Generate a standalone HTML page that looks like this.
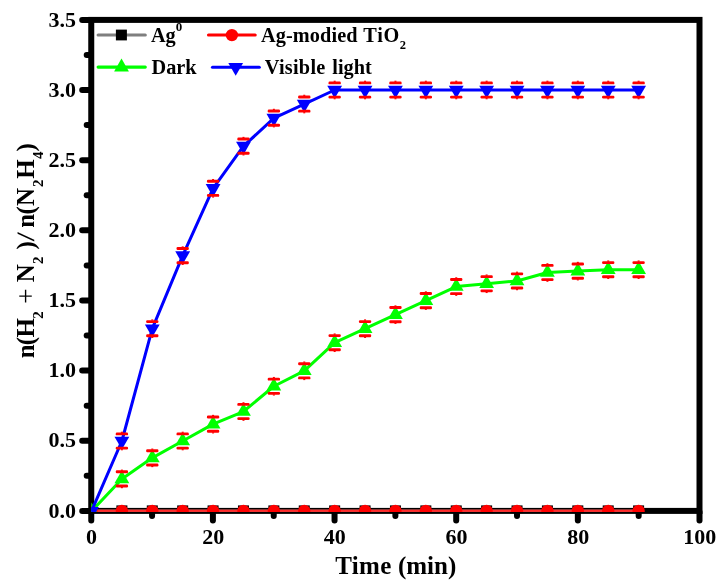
<!DOCTYPE html>
<html lang="en"><head><meta charset="utf-8"><title>Chart</title>
<style>html,body{margin:0;padding:0;background:#fff}svg{display:block}text{font-family:"Liberation Serif",serif;font-weight:bold;fill:#000}</style></head><body>
<svg width="725" height="587" viewBox="0 0 725 587">
<rect width="725" height="587" fill="#fff"/>
<defs><clipPath id="c"><rect x="91.25" y="0" width="640" height="511.90"/></clipPath></defs>
<g stroke="#000" stroke-width="6.0" fill="none" stroke-linecap="round">
<rect x="91.25" y="19.90" width="608.25" height="491.00" stroke-linejoin="miter"/>
<line x1="82.20" y1="510.90" x2="90.25" y2="510.90"/>
<line x1="86.70" y1="475.83" x2="90.25" y2="475.83"/>
<line x1="82.20" y1="440.76" x2="90.25" y2="440.76"/>
<line x1="86.70" y1="405.69" x2="90.25" y2="405.69"/>
<line x1="82.20" y1="370.61" x2="90.25" y2="370.61"/>
<line x1="86.70" y1="335.54" x2="90.25" y2="335.54"/>
<line x1="82.20" y1="300.47" x2="90.25" y2="300.47"/>
<line x1="86.70" y1="265.40" x2="90.25" y2="265.40"/>
<line x1="82.20" y1="230.33" x2="90.25" y2="230.33"/>
<line x1="86.70" y1="195.26" x2="90.25" y2="195.26"/>
<line x1="82.20" y1="160.19" x2="90.25" y2="160.19"/>
<line x1="86.70" y1="125.11" x2="90.25" y2="125.11"/>
<line x1="82.20" y1="90.04" x2="90.25" y2="90.04"/>
<line x1="86.70" y1="54.97" x2="90.25" y2="54.97"/>
<line x1="82.20" y1="19.90" x2="90.25" y2="19.90"/>
<line x1="91.25" y1="511.90" x2="91.25" y2="520.60"/>
<line x1="152.07" y1="511.90" x2="152.07" y2="516.10"/>
<line x1="212.90" y1="511.90" x2="212.90" y2="520.60"/>
<line x1="273.73" y1="511.90" x2="273.73" y2="516.10"/>
<line x1="334.55" y1="511.90" x2="334.55" y2="520.60"/>
<line x1="395.38" y1="511.90" x2="395.38" y2="516.10"/>
<line x1="456.20" y1="511.90" x2="456.20" y2="520.60"/>
<line x1="517.02" y1="511.90" x2="517.02" y2="516.10"/>
<line x1="577.85" y1="511.90" x2="577.85" y2="520.60"/>
<line x1="638.67" y1="511.90" x2="638.67" y2="516.10"/>
<line x1="699.50" y1="511.90" x2="699.50" y2="520.60"/>
</g>
<g font-size="22.0px">
<text x="75.9" y="517.50" text-anchor="end">0.0</text>
<text x="75.9" y="447.36" text-anchor="end">0.5</text>
<text x="75.9" y="377.21" text-anchor="end">1.0</text>
<text x="75.9" y="307.07" text-anchor="end">1.5</text>
<text x="75.9" y="236.93" text-anchor="end">2.0</text>
<text x="75.9" y="166.79" text-anchor="end">2.5</text>
<text x="75.9" y="96.64" text-anchor="end">3.0</text>
<text x="75.9" y="26.50" text-anchor="end">3.5</text>
<text x="91.55" y="544" text-anchor="middle">0</text>
<text x="213.20" y="544" text-anchor="middle">20</text>
<text x="334.85" y="544" text-anchor="middle">40</text>
<text x="456.50" y="544" text-anchor="middle">60</text>
<text x="578.15" y="544" text-anchor="middle">80</text>
<text x="699.80" y="544" text-anchor="middle">100</text>
</g>
<text x="335.3" y="573.6" font-size="25px" letter-spacing="0.3">Time</text>
<text x="397.9" y="573.6" font-size="25px">(min)</text>
<text transform="translate(33.7,358.0) rotate(-90)" font-size="25px"><tspan x="-0.2" y="0">n</tspan><tspan x="12.7" y="0">(</tspan><tspan x="20.6" y="0">H</tspan><tspan x="39.3" y="9.2" font-size="15px">2</tspan><tspan x="54.3" y="1.6" font-size="27px" font-weight="normal">+</tspan><tspan x="75.7" y="0">N</tspan><tspan x="94.0" y="9.2" font-size="15px">2</tspan><tspan x="108.4" y="0">)</tspan><tspan x="130.2" y="0">n</tspan><tspan x="143.4" y="0">(</tspan><tspan x="152.1" y="0">N</tspan><tspan x="170.9" y="9.2" font-size="15px">2</tspan><tspan x="179.2" y="0">H</tspan><tspan x="199.0" y="9.2" font-size="15px">4</tspan><tspan x="206.6" y="0">)</tspan></text>
<text transform="translate(33.7,358.0) rotate(-90) translate(116.7,0) skewX(-7)" font-size="25px">/</text>
<g clip-path="url(#c)">
<line x1="91.50" y1="510.90" x2="638.61" y2="510.90" stroke="#7f7f7f" stroke-width="3"/>
<rect x="86.00" y="505.40" width="11" height="11" fill="#000"/>
<rect x="116.39" y="505.40" width="11" height="11" fill="#000"/>
<rect x="146.79" y="505.40" width="11" height="11" fill="#000"/>
<rect x="177.19" y="505.40" width="11" height="11" fill="#000"/>
<rect x="207.58" y="505.40" width="11" height="11" fill="#000"/>
<rect x="237.97" y="505.40" width="11" height="11" fill="#000"/>
<rect x="268.37" y="505.40" width="11" height="11" fill="#000"/>
<rect x="298.76" y="505.40" width="11" height="11" fill="#000"/>
<rect x="329.16" y="505.40" width="11" height="11" fill="#000"/>
<rect x="359.56" y="505.40" width="11" height="11" fill="#000"/>
<rect x="389.95" y="505.40" width="11" height="11" fill="#000"/>
<rect x="420.34" y="505.40" width="11" height="11" fill="#000"/>
<rect x="450.74" y="505.40" width="11" height="11" fill="#000"/>
<rect x="481.13" y="505.40" width="11" height="11" fill="#000"/>
<rect x="511.53" y="505.40" width="11" height="11" fill="#000"/>
<rect x="541.92" y="505.40" width="11" height="11" fill="#000"/>
<rect x="572.32" y="505.40" width="11" height="11" fill="#000"/>
<rect x="602.72" y="505.40" width="11" height="11" fill="#000"/>
<rect x="633.11" y="505.40" width="11" height="11" fill="#000"/>
<rect x="91.50" y="509.6" width="547.11" height="2.3" fill="#ff2a2a"/>
<circle cx="91.50" cy="510.95" r="6.15" fill="#f00"/>
<circle cx="121.89" cy="510.95" r="6.15" fill="#f00"/>
<circle cx="152.29" cy="510.95" r="6.15" fill="#f00"/>
<circle cx="182.69" cy="510.95" r="6.15" fill="#f00"/>
<circle cx="213.08" cy="510.95" r="6.15" fill="#f00"/>
<circle cx="243.47" cy="510.95" r="6.15" fill="#f00"/>
<circle cx="273.87" cy="510.95" r="6.15" fill="#f00"/>
<circle cx="304.26" cy="510.95" r="6.15" fill="#f00"/>
<circle cx="334.66" cy="510.95" r="6.15" fill="#f00"/>
<circle cx="365.06" cy="510.95" r="6.15" fill="#f00"/>
<circle cx="395.45" cy="510.95" r="6.15" fill="#f00"/>
<circle cx="425.84" cy="510.95" r="6.15" fill="#f00"/>
<circle cx="456.24" cy="510.95" r="6.15" fill="#f00"/>
<circle cx="486.63" cy="510.95" r="6.15" fill="#f00"/>
<circle cx="517.03" cy="510.95" r="6.15" fill="#f00"/>
<circle cx="547.42" cy="510.95" r="6.15" fill="#f00"/>
<circle cx="577.82" cy="510.95" r="6.15" fill="#f00"/>
<circle cx="608.22" cy="510.95" r="6.15" fill="#f00"/>
<circle cx="638.61" cy="510.95" r="6.15" fill="#f00"/>
<polyline points="91.50,511.20 121.89,478.91 152.29,457.85 182.69,441.00 213.08,424.15 243.47,411.52 273.87,386.24 304.26,370.80 334.66,342.72 365.06,328.68 395.45,314.64 425.84,300.60 456.24,286.56 486.63,283.75 517.03,280.94 547.42,272.52 577.82,271.12 608.22,269.71 638.61,269.71" fill="none" stroke="#0f0" stroke-width="3" stroke-linejoin="round"/>
<polygon points="91.50,502.60 84.10,515.50 98.90,515.50" fill="#0f0"/>
<polygon points="121.89,470.31 114.49,483.21 129.29,483.21" fill="#0f0"/>
<polygon points="152.29,449.25 144.89,462.15 159.69,462.15" fill="#0f0"/>
<polygon points="182.69,432.40 175.28,445.30 190.09,445.30" fill="#0f0"/>
<polygon points="213.08,415.55 205.68,428.45 220.48,428.45" fill="#0f0"/>
<polygon points="243.47,402.92 236.07,415.82 250.88,415.82" fill="#0f0"/>
<polygon points="273.87,377.64 266.47,390.54 281.27,390.54" fill="#0f0"/>
<polygon points="304.26,362.20 296.87,375.10 311.66,375.10" fill="#0f0"/>
<polygon points="334.66,334.12 327.26,347.02 342.06,347.02" fill="#0f0"/>
<polygon points="365.06,320.08 357.66,332.98 372.45,332.98" fill="#0f0"/>
<polygon points="395.45,306.04 388.05,318.94 402.85,318.94" fill="#0f0"/>
<polygon points="425.84,292.00 418.44,304.90 433.24,304.90" fill="#0f0"/>
<polygon points="456.24,277.96 448.84,290.86 463.64,290.86" fill="#0f0"/>
<polygon points="486.63,275.15 479.24,288.05 494.03,288.05" fill="#0f0"/>
<polygon points="517.03,272.34 509.63,285.24 524.43,285.24" fill="#0f0"/>
<polygon points="547.42,263.92 540.02,276.82 554.82,276.82" fill="#0f0"/>
<polygon points="577.82,262.52 570.42,275.42 585.22,275.42" fill="#0f0"/>
<polygon points="608.22,261.11 600.82,274.01 615.62,274.01" fill="#0f0"/>
<polygon points="638.61,261.11 631.21,274.01 646.01,274.01" fill="#0f0"/>
<g fill="#f00">
<rect x="115.74" y="470.36" width="12.3" height="2.9" rx="1.2"/><rect x="120.89" y="469.61" width="2" height="1.2"/><rect x="115.74" y="484.56" width="12.3" height="2.9" rx="1.2"/><rect x="120.89" y="487.01" width="2" height="1.2"/>
<rect x="146.14" y="449.30" width="12.3" height="2.9" rx="1.2"/><rect x="151.29" y="448.55" width="2" height="1.2"/><rect x="146.14" y="463.50" width="12.3" height="2.9" rx="1.2"/><rect x="151.29" y="465.95" width="2" height="1.2"/>
<rect x="176.53" y="432.45" width="12.3" height="2.9" rx="1.2"/><rect x="181.69" y="431.70" width="2" height="1.2"/><rect x="176.53" y="446.65" width="12.3" height="2.9" rx="1.2"/><rect x="181.69" y="449.10" width="2" height="1.2"/>
<rect x="206.93" y="415.60" width="12.3" height="2.9" rx="1.2"/><rect x="212.08" y="414.85" width="2" height="1.2"/><rect x="206.93" y="429.80" width="12.3" height="2.9" rx="1.2"/><rect x="212.08" y="432.25" width="2" height="1.2"/>
<rect x="237.32" y="402.97" width="12.3" height="2.9" rx="1.2"/><rect x="242.47" y="402.22" width="2" height="1.2"/><rect x="237.32" y="417.17" width="12.3" height="2.9" rx="1.2"/><rect x="242.47" y="419.62" width="2" height="1.2"/>
<rect x="267.72" y="377.69" width="12.3" height="2.9" rx="1.2"/><rect x="272.87" y="376.94" width="2" height="1.2"/><rect x="267.72" y="391.89" width="12.3" height="2.9" rx="1.2"/><rect x="272.87" y="394.34" width="2" height="1.2"/>
<rect x="298.12" y="362.25" width="12.3" height="2.9" rx="1.2"/><rect x="303.26" y="361.50" width="2" height="1.2"/><rect x="298.12" y="376.45" width="12.3" height="2.9" rx="1.2"/><rect x="303.26" y="378.90" width="2" height="1.2"/>
<rect x="328.51" y="334.17" width="12.3" height="2.9" rx="1.2"/><rect x="333.66" y="333.42" width="2" height="1.2"/><rect x="328.51" y="348.37" width="12.3" height="2.9" rx="1.2"/><rect x="333.66" y="350.82" width="2" height="1.2"/>
<rect x="358.91" y="320.13" width="12.3" height="2.9" rx="1.2"/><rect x="364.06" y="319.38" width="2" height="1.2"/><rect x="358.91" y="334.33" width="12.3" height="2.9" rx="1.2"/><rect x="364.06" y="336.78" width="2" height="1.2"/>
<rect x="389.30" y="306.09" width="12.3" height="2.9" rx="1.2"/><rect x="394.45" y="305.34" width="2" height="1.2"/><rect x="389.30" y="320.29" width="12.3" height="2.9" rx="1.2"/><rect x="394.45" y="322.74" width="2" height="1.2"/>
<rect x="419.69" y="292.05" width="12.3" height="2.9" rx="1.2"/><rect x="424.84" y="291.30" width="2" height="1.2"/><rect x="419.69" y="306.25" width="12.3" height="2.9" rx="1.2"/><rect x="424.84" y="308.70" width="2" height="1.2"/>
<rect x="450.09" y="278.01" width="12.3" height="2.9" rx="1.2"/><rect x="455.24" y="277.26" width="2" height="1.2"/><rect x="450.09" y="292.21" width="12.3" height="2.9" rx="1.2"/><rect x="455.24" y="294.66" width="2" height="1.2"/>
<rect x="480.49" y="275.20" width="12.3" height="2.9" rx="1.2"/><rect x="485.63" y="274.45" width="2" height="1.2"/><rect x="480.49" y="289.40" width="12.3" height="2.9" rx="1.2"/><rect x="485.63" y="291.85" width="2" height="1.2"/>
<rect x="510.88" y="272.39" width="12.3" height="2.9" rx="1.2"/><rect x="516.03" y="271.64" width="2" height="1.2"/><rect x="510.88" y="286.59" width="12.3" height="2.9" rx="1.2"/><rect x="516.03" y="289.04" width="2" height="1.2"/>
<rect x="541.27" y="263.97" width="12.3" height="2.9" rx="1.2"/><rect x="546.42" y="263.22" width="2" height="1.2"/><rect x="541.27" y="278.17" width="12.3" height="2.9" rx="1.2"/><rect x="546.42" y="280.62" width="2" height="1.2"/>
<rect x="571.67" y="262.57" width="12.3" height="2.9" rx="1.2"/><rect x="576.82" y="261.82" width="2" height="1.2"/><rect x="571.67" y="276.77" width="12.3" height="2.9" rx="1.2"/><rect x="576.82" y="279.22" width="2" height="1.2"/>
<rect x="602.07" y="261.16" width="12.3" height="2.9" rx="1.2"/><rect x="607.22" y="260.41" width="2" height="1.2"/><rect x="602.07" y="275.36" width="12.3" height="2.9" rx="1.2"/><rect x="607.22" y="277.81" width="2" height="1.2"/>
<rect x="632.46" y="261.16" width="12.3" height="2.9" rx="1.2"/><rect x="637.61" y="260.41" width="2" height="1.2"/><rect x="632.46" y="275.36" width="12.3" height="2.9" rx="1.2"/><rect x="637.61" y="277.81" width="2" height="1.2"/>
</g>
<polyline points="91.50,511.20 121.89,441.00 152.29,328.68 182.69,255.67 213.08,188.28 243.47,146.16 273.87,118.08 304.26,104.04 334.66,90.00 365.06,90.00 395.45,90.00 425.84,90.00 456.24,90.00 486.63,90.00 517.03,90.00 547.42,90.00 577.82,90.00 608.22,90.00 638.61,90.00" fill="none" stroke="#00f" stroke-width="3" stroke-linejoin="round"/>
<polygon points="91.50,519.80 84.10,506.90 98.90,506.90" fill="#00f"/>
<polygon points="121.89,449.60 114.49,436.70 129.29,436.70" fill="#00f"/>
<polygon points="152.29,337.28 144.89,324.38 159.69,324.38" fill="#00f"/>
<polygon points="182.69,264.27 175.28,251.37 190.09,251.37" fill="#00f"/>
<polygon points="213.08,196.88 205.68,183.98 220.48,183.98" fill="#00f"/>
<polygon points="243.47,154.76 236.07,141.86 250.88,141.86" fill="#00f"/>
<polygon points="273.87,126.68 266.47,113.78 281.27,113.78" fill="#00f"/>
<polygon points="304.26,112.64 296.87,99.74 311.66,99.74" fill="#00f"/>
<polygon points="334.66,98.60 327.26,85.70 342.06,85.70" fill="#00f"/>
<polygon points="365.06,98.60 357.66,85.70 372.45,85.70" fill="#00f"/>
<polygon points="395.45,98.60 388.05,85.70 402.85,85.70" fill="#00f"/>
<polygon points="425.84,98.60 418.44,85.70 433.24,85.70" fill="#00f"/>
<polygon points="456.24,98.60 448.84,85.70 463.64,85.70" fill="#00f"/>
<polygon points="486.63,98.60 479.24,85.70 494.03,85.70" fill="#00f"/>
<polygon points="517.03,98.60 509.63,85.70 524.43,85.70" fill="#00f"/>
<polygon points="547.42,98.60 540.02,85.70 554.82,85.70" fill="#00f"/>
<polygon points="577.82,98.60 570.42,85.70 585.22,85.70" fill="#00f"/>
<polygon points="608.22,98.60 600.82,85.70 615.62,85.70" fill="#00f"/>
<polygon points="638.61,98.60 631.21,85.70 646.01,85.70" fill="#00f"/>
<g fill="#f00">
<rect x="115.74" y="432.45" width="12.3" height="2.9" rx="1.2"/><rect x="120.89" y="431.70" width="2" height="1.2"/><rect x="115.74" y="446.65" width="12.3" height="2.9" rx="1.2"/><rect x="120.89" y="449.10" width="2" height="1.2"/>
<rect x="146.14" y="320.13" width="12.3" height="2.9" rx="1.2"/><rect x="151.29" y="319.38" width="2" height="1.2"/><rect x="146.14" y="334.33" width="12.3" height="2.9" rx="1.2"/><rect x="151.29" y="336.78" width="2" height="1.2"/>
<rect x="176.53" y="247.12" width="12.3" height="2.9" rx="1.2"/><rect x="181.69" y="246.37" width="2" height="1.2"/><rect x="176.53" y="261.32" width="12.3" height="2.9" rx="1.2"/><rect x="181.69" y="263.77" width="2" height="1.2"/>
<rect x="206.93" y="179.73" width="12.3" height="2.9" rx="1.2"/><rect x="212.08" y="178.98" width="2" height="1.2"/><rect x="206.93" y="193.93" width="12.3" height="2.9" rx="1.2"/><rect x="212.08" y="196.38" width="2" height="1.2"/>
<rect x="237.32" y="137.61" width="12.3" height="2.9" rx="1.2"/><rect x="242.47" y="136.86" width="2" height="1.2"/><rect x="237.32" y="151.81" width="12.3" height="2.9" rx="1.2"/><rect x="242.47" y="154.26" width="2" height="1.2"/>
<rect x="267.72" y="109.53" width="12.3" height="2.9" rx="1.2"/><rect x="272.87" y="108.78" width="2" height="1.2"/><rect x="267.72" y="123.73" width="12.3" height="2.9" rx="1.2"/><rect x="272.87" y="126.18" width="2" height="1.2"/>
<rect x="298.12" y="95.49" width="12.3" height="2.9" rx="1.2"/><rect x="303.26" y="94.74" width="2" height="1.2"/><rect x="298.12" y="109.69" width="12.3" height="2.9" rx="1.2"/><rect x="303.26" y="112.14" width="2" height="1.2"/>
<rect x="328.51" y="81.45" width="12.3" height="2.9" rx="1.2"/><rect x="333.66" y="80.70" width="2" height="1.2"/><rect x="328.51" y="95.65" width="12.3" height="2.9" rx="1.2"/><rect x="333.66" y="98.10" width="2" height="1.2"/>
<rect x="358.91" y="81.45" width="12.3" height="2.9" rx="1.2"/><rect x="364.06" y="80.70" width="2" height="1.2"/><rect x="358.91" y="95.65" width="12.3" height="2.9" rx="1.2"/><rect x="364.06" y="98.10" width="2" height="1.2"/>
<rect x="389.30" y="81.45" width="12.3" height="2.9" rx="1.2"/><rect x="394.45" y="80.70" width="2" height="1.2"/><rect x="389.30" y="95.65" width="12.3" height="2.9" rx="1.2"/><rect x="394.45" y="98.10" width="2" height="1.2"/>
<rect x="419.69" y="81.45" width="12.3" height="2.9" rx="1.2"/><rect x="424.84" y="80.70" width="2" height="1.2"/><rect x="419.69" y="95.65" width="12.3" height="2.9" rx="1.2"/><rect x="424.84" y="98.10" width="2" height="1.2"/>
<rect x="450.09" y="81.45" width="12.3" height="2.9" rx="1.2"/><rect x="455.24" y="80.70" width="2" height="1.2"/><rect x="450.09" y="95.65" width="12.3" height="2.9" rx="1.2"/><rect x="455.24" y="98.10" width="2" height="1.2"/>
<rect x="480.49" y="81.45" width="12.3" height="2.9" rx="1.2"/><rect x="485.63" y="80.70" width="2" height="1.2"/><rect x="480.49" y="95.65" width="12.3" height="2.9" rx="1.2"/><rect x="485.63" y="98.10" width="2" height="1.2"/>
<rect x="510.88" y="81.45" width="12.3" height="2.9" rx="1.2"/><rect x="516.03" y="80.70" width="2" height="1.2"/><rect x="510.88" y="95.65" width="12.3" height="2.9" rx="1.2"/><rect x="516.03" y="98.10" width="2" height="1.2"/>
<rect x="541.27" y="81.45" width="12.3" height="2.9" rx="1.2"/><rect x="546.42" y="80.70" width="2" height="1.2"/><rect x="541.27" y="95.65" width="12.3" height="2.9" rx="1.2"/><rect x="546.42" y="98.10" width="2" height="1.2"/>
<rect x="571.67" y="81.45" width="12.3" height="2.9" rx="1.2"/><rect x="576.82" y="80.70" width="2" height="1.2"/><rect x="571.67" y="95.65" width="12.3" height="2.9" rx="1.2"/><rect x="576.82" y="98.10" width="2" height="1.2"/>
<rect x="602.07" y="81.45" width="12.3" height="2.9" rx="1.2"/><rect x="607.22" y="80.70" width="2" height="1.2"/><rect x="602.07" y="95.65" width="12.3" height="2.9" rx="1.2"/><rect x="607.22" y="98.10" width="2" height="1.2"/>
<rect x="632.46" y="81.45" width="12.3" height="2.9" rx="1.2"/><rect x="637.61" y="80.70" width="2" height="1.2"/><rect x="632.46" y="95.65" width="12.3" height="2.9" rx="1.2"/><rect x="637.61" y="98.10" width="2" height="1.2"/>
</g>
</g>
<g stroke-width="3.1" stroke-linecap="round">
<line x1="98.1" y1="35" x2="145.3" y2="35" stroke="#7f7f7f"/>
<line x1="208.5" y1="35" x2="255.2" y2="35" stroke="#f00"/>
<line x1="98.1" y1="67.1" x2="145.3" y2="67.1" stroke="#0f0"/>
<line x1="212.5" y1="67.2" x2="259.3" y2="67.2" stroke="#00f"/>
</g>
<rect x="115.9" y="29.6" width="11" height="10.8" fill="#000"/>
<circle cx="231.9" cy="35.1" r="6.2" fill="#f00"/>
<polygon points="121.5,58.6 114.1,71.5 128.9,71.5" fill="#0f0"/>
<polygon points="235.7,75.7 228.3,62.9 243.1,62.9" fill="#00f"/>
<g font-size="20.3px">
<text x="150.9" y="42.2">Ag<tspan font-size="13px" dy="-11.4">0</tspan></text>
<text x="261.1" y="42.2" letter-spacing="0.08">Ag-modied</text>
<text x="363.3" y="42.2" letter-spacing="0.7">TiO</text>
<text x="399.7" y="49.2" font-size="12.5px">2</text>
<text x="151.5" y="74">Dark</text>
<text x="264.8" y="74" letter-spacing="0.25">Visible</text>
<text x="332.3" y="74">light</text>
</g>
</svg></body></html>
